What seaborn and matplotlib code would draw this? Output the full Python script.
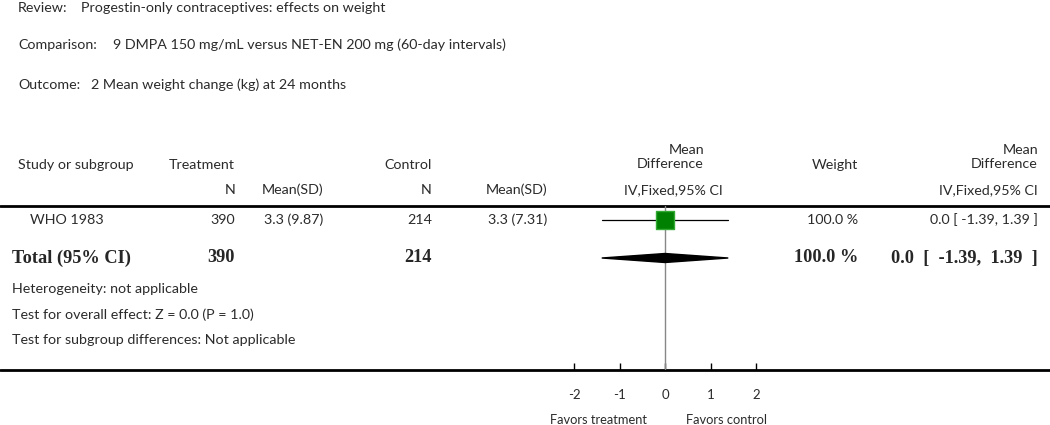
import matplotlib
matplotlib.use("Agg")
import matplotlib.pyplot as plt
import seaborn as sns
import pandas as pd

# data
review = "Progestin-only contraceptives: effects on weight"
comparison = "9 DMPA 150 mg/mL versus NET-EN 200 mg (60-day intervals)"
outcome = "2 Mean weight change (kg) at 24 months"

studies = ["WHO 1983"]
n_treat = [390]
mean_sd_treat = ["3.3 (9.87)"]
n_ctrl = [214]
mean_sd_ctrl = ["3.3 (7.31)"]
md = [0.0]
ci_low = [-1.39]
ci_high = [1.39]
weights = ["100.0 %"]

total_n_treat = 390
total_n_ctrl = 214
total_md = 0.0
total_low = -1.39
total_high = 1.39
total_weight = "100.0 %"

footnotes = ["Heterogeneity: not applicable",
             "Test for overall effect: Z = 0.0 (P = 1.0)",
             "Test for subgroup differences: Not applicable"]
tick_vals = [-2, -1, 0, 1, 2]
tick_labels = ["-2", "-1", "0", "1", "2"]

sns.set_theme(style="white")
plt.rcParams['font.family'] = ['Lato', 'DejaVu Sans']

W, H = 1050, 425
fig = plt.figure(figsize=(W / 100, H / 100), dpi=100)
ax = fig.add_axes([0, 0, 1, 1])
ax.set_xlim(0, W)
ax.set_ylim(H, 0)
ax.axis("off")

txt = "#2b2b2b"
fs = 10.3
serif = ['Liberation Serif', 'DejaVu Serif']

# title block
ax.text(18, 8, "Review:", fontsize=fs, color=txt, va="center")
ax.text(81, 8, review, fontsize=fs, color=txt, va="center")
ax.text(18, 45, "Comparison:", fontsize=fs, color=txt, va="center")
ax.text(113, 45, comparison, fontsize=fs, color=txt, va="center")
ax.text(18, 85, "Outcome:", fontsize=fs, color=txt, va="center")
ax.text(91, 85, outcome, fontsize=fs, color=txt, va="center")

# header
ax.text(18, 165, "Study or subgroup", fontsize=fs, color=txt, va="center")
ax.text(235, 165, "Treatment", fontsize=fs, color=txt, va="center", ha="right")
ax.text(432, 165, "Control", fontsize=fs, color=txt, va="center", ha="right")
ax.text(235, 190, "N", fontsize=fs, color=txt, va="center", ha="right")
ax.text(323, 190, "Mean(SD)", fontsize=fs, color=txt, va="center", ha="right")
ax.text(432, 190, "N", fontsize=fs, color=txt, va="center", ha="right")
ax.text(547, 190, "Mean(SD)", fontsize=fs, color=txt, va="center", ha="right")
ax.text(704, 157, "Mean\nDifference", fontsize=fs, color=txt, va="center",
        ha="right", multialignment="right", linespacing=1.1)
ax.text(673, 190, "IV,Fixed,95% CI", fontsize=fs, color=txt, va="center", ha="center")
ax.text(858, 165, "Weight", fontsize=fs, color=txt, va="center", ha="right")
ax.text(1038, 157, "Mean\nDifference", fontsize=fs, color=txt, va="center",
        ha="right", multialignment="right", linespacing=1.1)
ax.text(1038, 190, "IV,Fixed,95% CI", fontsize=fs, color=txt, va="center", ha="right")

ax.plot([0, W], [206, 206], color="black", lw=2)
ax.plot([0, W], [370, 370], color="black", lw=2)

# study rows
row_y = [220]
for i, s in enumerate(studies):
    y = row_y[i]
    ax.text(30, y, s, fontsize=fs, color=txt, va="center")
    ax.text(235, y, str(n_treat[i]), fontsize=fs, color=txt, va="center", ha="right")
    ax.text(323, y, mean_sd_treat[i], fontsize=fs, color=txt, va="center", ha="right")
    ax.text(432, y, str(n_ctrl[i]), fontsize=fs, color=txt, va="center", ha="right")
    ax.text(547, y, mean_sd_ctrl[i], fontsize=fs, color=txt, va="center", ha="right")
    ax.text(858, y, weights[i], fontsize=fs, color=txt, va="center", ha="right")
    ax.text(1038, y, f"{md[i]:.1f} [ {ci_low[i]:.2f}, {ci_high[i]:.2f} ]",
            fontsize=fs, color=txt, va="center", ha="right")

# total row
ty = 258
bfs = 13.2
ax.text(12, ty, "Total (95% CI)", fontsize=bfs, family=serif, weight="bold", va="center")
ax.text(235, ty, str(total_n_treat), fontsize=bfs, family=serif, weight="bold", va="center", ha="right")
ax.text(432, ty, str(total_n_ctrl), fontsize=bfs, family=serif, weight="bold", va="center", ha="right")
ax.text(858, ty, total_weight, fontsize=bfs, family=serif, weight="bold", va="center", ha="right")
ax.text(1038, ty, f"{total_md:.1f}  [  {total_low:.2f},  {total_high:.2f}  ]",
        fontsize=bfs, family=serif, weight="bold", va="center", ha="right")

for j, f in enumerate(footnotes):
    ax.text(12, 289 + 25.5 * j, f, fontsize=fs, color=txt, va="center")

# forest panel: 0 at x=665 px, 45.5 px per unit
px = 45.5
left, right = 540, 790
fx = fig.add_axes([left / W, (H - 370) / H, (right - left) / W, (370 - 206) / H])
fx.set_xlim((left - 665) / px, (right - 665) / px)
fx.set_ylim(370, 206)
fx.patch.set_alpha(0)
for sp in ["top", "left", "right", "bottom"]:
    fx.spines[sp].set_visible(False)
fx.set_yticks([])
fx.set_xticks(tick_vals)
fx.set_xticklabels(tick_labels)
fx.tick_params(axis="x", direction="in", length=5, width=1, color="black",
               pad=14, labelsize=9.5, labelcolor=txt, bottom=True)

fx.axvline(0, color="#888888", lw=1, zorder=1)

df = pd.DataFrame({"md": md, "lo": ci_low, "hi": ci_high, "y": row_y})
for _, r in df.iterrows():
    fx.plot([r.lo, r.hi], [r.y, r.y], color="black", lw=0.9, zorder=2)
sns.scatterplot(data=df, x="md", y="y", marker="s", s=185, color="#008000",
                edgecolor="#33aa33", linewidth=1, ax=fx, zorder=3, legend=False)
fx.set_xlabel("")
fx.set_ylabel("")

dh = 4.5
fx.fill([total_low, total_md, total_high, total_md],
        [ty, ty - dh, ty, ty + dh], color="black", zorder=3)

ax.text(598, 420, "Favors treatment", fontsize=9.3, color=txt, va="center", ha="center")
ax.text(726, 420, "Favors control", fontsize=9.3, color=txt, va="center", ha="center")

fig.savefig("out.png", dpi=100)
plt.close(fig)
